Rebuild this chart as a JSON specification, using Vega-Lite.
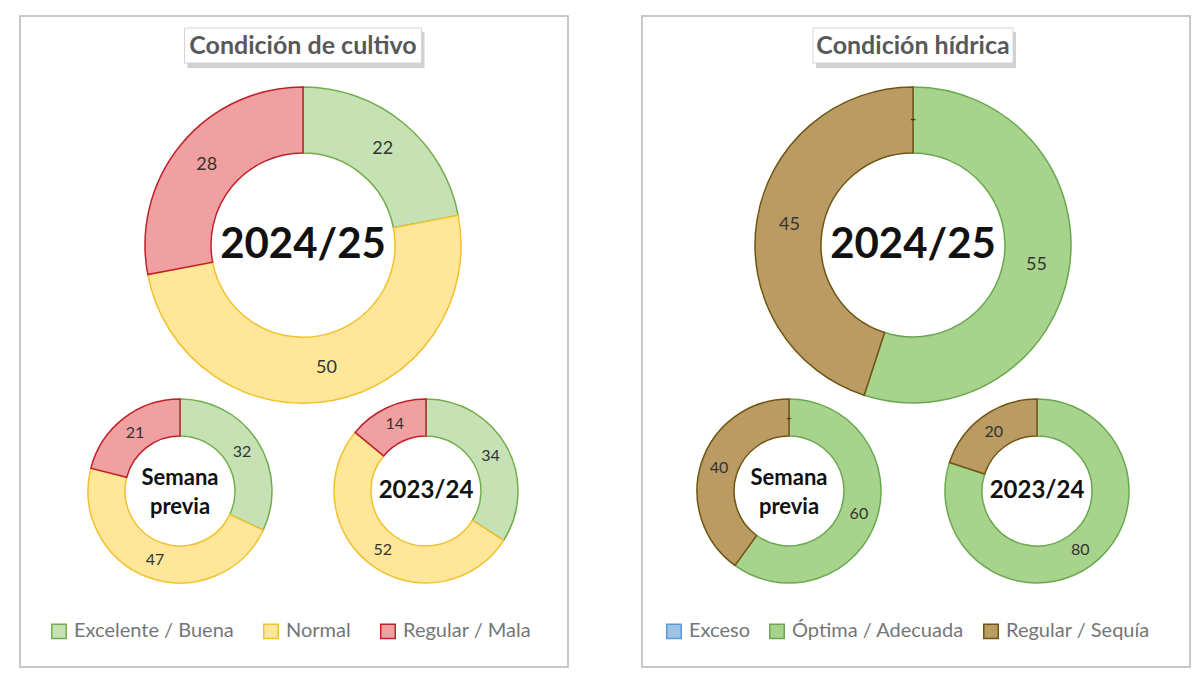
{
  "$schema": "https://vega.github.io/schema/vega-lite/v6.json",
  "background": "#ffffff",
  "padding": {"left": 19, "top": 15, "right": 0, "bottom": 0},
  "spacing": 72,
  "config": {
    "font": "Lato",
    "view": {"stroke": "#b8b8b8", "strokeWidth": 1.5}
  },
  "datasets": {
    "cultivo": [
      {"periodo": "2024/25", "grupo": "Actual", "categoria": "Excelente / Buena", "valor": 22},
      {"periodo": "2024/25", "grupo": "Actual", "categoria": "Normal", "valor": 50},
      {"periodo": "2024/25", "grupo": "Actual", "categoria": "Regular / Mala", "valor": 28},
      {"periodo": "Semana previa", "grupo": "Referencia", "categoria": "Excelente / Buena", "valor": 32},
      {"periodo": "Semana previa", "grupo": "Referencia", "categoria": "Normal", "valor": 47},
      {"periodo": "Semana previa", "grupo": "Referencia", "categoria": "Regular / Mala", "valor": 21},
      {"periodo": "2023/24", "grupo": "Referencia", "categoria": "Excelente / Buena", "valor": 34},
      {"periodo": "2023/24", "grupo": "Referencia", "categoria": "Normal", "valor": 52},
      {"periodo": "2023/24", "grupo": "Referencia", "categoria": "Regular / Mala", "valor": 14}
    ],
    "hidrica": [
      {"periodo": "2024/25", "grupo": "Actual", "categoria": "Exceso", "valor": 0},
      {"periodo": "2024/25", "grupo": "Actual", "categoria": "Óptima / Adecuada", "valor": 55},
      {"periodo": "2024/25", "grupo": "Actual", "categoria": "Regular / Sequía", "valor": 45},
      {"periodo": "Semana previa", "grupo": "Referencia", "categoria": "Exceso", "valor": 0},
      {"periodo": "Semana previa", "grupo": "Referencia", "categoria": "Óptima / Adecuada", "valor": 60},
      {"periodo": "Semana previa", "grupo": "Referencia", "categoria": "Regular / Sequía", "valor": 40},
      {"periodo": "2023/24", "grupo": "Referencia", "categoria": "Óptima / Adecuada", "valor": 80},
      {"periodo": "2023/24", "grupo": "Referencia", "categoria": "Regular / Sequía", "valor": 20}
    ]
  },
  "resolve": {
    "scale": {"x": "independent", "y": "independent", "theta": "independent", "fill": "independent", "stroke": "independent"},
    "legend": {"fill": "independent", "stroke": "independent"}
  },
  "hconcat": [
    {
      "width": 548,
      "height": 651,
      "data": {"name": "cultivo"},
      "layer": [
        {
          "data": {"values": [{"titulo": "Condición de cultivo"}]},
          "mark": {"type": "rect", "width": 237, "fill": "#7a7a7a", "opacity": 0.35, "xOffset": 3},
          "encoding": {
            "x": {"datum": "2024/25", "type": "nominal", "axis": null},
            "y": {"value": 16},
            "y2": {"value": 52}
          }
        },
        {
          "data": {"values": [{"titulo": "Condición de cultivo"}]},
          "mark": {"type": "rect", "width": 237, "fill": "#ffffff", "stroke": "#d4d4d4", "strokeWidth": 1},
          "encoding": {
            "x": {"datum": "2024/25", "type": "nominal", "axis": null},
            "y": {"value": 12},
            "y2": {"value": 47}
          }
        },
        {
          "data": {"values": [{"titulo": "Condición de cultivo"}]},
          "mark": {"type": "text", "fontSize": 25, "fontWeight": "bold", "color": "#595959", "baseline": "middle"},
          "encoding": {
            "x": {"datum": "2024/25", "type": "nominal", "axis": null},
            "y": {"value": 29.5},
            "text": {"field": "titulo"}
          }
        },
        {
          "transform": [{"filter": "datum.periodo === '2024/25'"}],
          "mark": {"type": "arc", "radius": 158, "radius2": 92, "strokeWidth": 1.5},
          "encoding": {
            "x": {"field": "periodo", "type": "nominal", "axis": null, "scale": {"type": "point", "domain": ["Semana previa", "2024/25", "2023/24"], "padding": 0, "range": [160, 406]}},
            "y": {"field": "grupo", "type": "nominal", "axis": null, "scale": {"type": "point", "domain": ["Actual", "Referencia"], "padding": 0.823, "align": 0.5654}},
            "theta": {"field": "valor", "type": "quantitative", "stack": true, "scale": {"domain": [0, 100]}},
            "order": {"field": "categoria", "sort": "ascending"},
            "fill": {
              "field": "categoria", "type": "nominal",
              "scale": {"domain": ["Excelente / Buena", "Normal", "Regular / Mala"], "range": ["#c6e2b5", "#ffe699", "#f0a0a0"]},
              "legend": {"orient": "none", "legendX": 29, "legendY": 605, "direction": "horizontal", "title": null, "symbolType": "square", "symbolSize": 210, "symbolStrokeWidth": 1.5, "labelFontSize": 20, "labelColor": "#767676", "labelFont": "Lato", "labelLimit": 400, "columnPadding": 26, "labelOffset": 5, "padding": 0}
            },
            "stroke": {
              "field": "categoria", "type": "nominal",
              "scale": {"domain": ["Excelente / Buena", "Normal", "Regular / Mala"], "range": ["#72ad4a", "#f2c12e", "#c0202a"]},
              "legend": {"orient": "none", "legendX": 29, "legendY": 605, "direction": "horizontal", "title": null, "symbolType": "square", "symbolSize": 210, "symbolStrokeWidth": 1.5, "labelFontSize": 20, "labelColor": "#767676", "labelFont": "Lato", "labelLimit": 400, "columnPadding": 26, "labelOffset": 5, "padding": 0}
            }
          }
        },
        {
          "transform": [{"filter": "datum.periodo === 'Semana previa'"}],
          "mark": {"type": "arc", "radius": 92, "radius2": 55, "strokeWidth": 1.5},
          "encoding": {
            "x": {"field": "periodo", "type": "nominal", "axis": null},
            "y": {"field": "grupo", "type": "nominal", "axis": null},
            "theta": {"field": "valor", "type": "quantitative", "stack": true},
            "order": {"field": "categoria", "sort": "ascending"},
            "fill": {"field": "categoria", "type": "nominal"},
            "stroke": {"field": "categoria", "type": "nominal"}
          }
        },
        {
          "transform": [{"filter": "datum.periodo === '2023/24'"}],
          "mark": {"type": "arc", "radius": 92, "radius2": 55, "strokeWidth": 1.5},
          "encoding": {
            "x": {"field": "periodo", "type": "nominal", "axis": null},
            "y": {"field": "grupo", "type": "nominal", "axis": null},
            "theta": {"field": "valor", "type": "quantitative", "stack": true},
            "order": {"field": "categoria", "sort": "ascending"},
            "fill": {"field": "categoria", "type": "nominal"},
            "stroke": {"field": "categoria", "type": "nominal"}
          }
        },
        {
          "transform": [{"filter": "datum.periodo === '2024/25'"}],
          "mark": {"type": "text", "radius": 125, "fontSize": 18, "color": "#333333"},
          "encoding": {
            "x": {"field": "periodo", "type": "nominal", "axis": null},
            "y": {"field": "grupo", "type": "nominal", "axis": null},
            "theta": {"field": "valor", "type": "quantitative", "stack": true},
            "order": {"field": "categoria", "sort": "ascending"},
            "detail": {"field": "categoria", "type": "nominal"},
            "text": {"condition": {"test": "datum.valor === 0", "value": "-"}, "field": "valor", "type": "quantitative"}
          }
        },
        {
          "transform": [{"filter": "datum.periodo === 'Semana previa'"}],
          "mark": {"type": "text", "radius": 73.5, "fontSize": 16, "color": "#333333"},
          "encoding": {
            "x": {"field": "periodo", "type": "nominal", "axis": null},
            "y": {"field": "grupo", "type": "nominal", "axis": null},
            "theta": {"field": "valor", "type": "quantitative", "stack": true},
            "order": {"field": "categoria", "sort": "ascending"},
            "detail": {"field": "categoria", "type": "nominal"},
            "text": {"condition": {"test": "datum.valor === 0", "value": "-"}, "field": "valor", "type": "quantitative"}
          }
        },
        {
          "transform": [{"filter": "datum.periodo === '2023/24'"}],
          "mark": {"type": "text", "radius": 73.5, "fontSize": 16, "color": "#333333"},
          "encoding": {
            "x": {"field": "periodo", "type": "nominal", "axis": null},
            "y": {"field": "grupo", "type": "nominal", "axis": null},
            "theta": {"field": "valor", "type": "quantitative", "stack": true},
            "order": {"field": "categoria", "sort": "ascending"},
            "detail": {"field": "categoria", "type": "nominal"},
            "text": {"condition": {"test": "datum.valor === 0", "value": "-"}, "field": "valor", "type": "quantitative"}
          }
        },
        {
          "transform": [
            {"filter": "datum.periodo === '2024/25'"},
            {"aggregate": [{"op": "count", "as": "n"}], "groupby": ["periodo", "grupo"]}
          ],
          "mark": {"type": "text", "fontSize": 42, "fontWeight": "bold", "color": "#111111"},
          "encoding": {
            "x": {"field": "periodo", "type": "nominal", "axis": null},
            "y": {"field": "grupo", "type": "nominal", "axis": null},
            "text": {"field": "periodo"}
          }
        },
        {
          "transform": [
            {"filter": "datum.periodo === 'Semana previa'"},
            {"aggregate": [{"op": "count", "as": "n"}], "groupby": ["periodo", "grupo"]}
          ],
          "mark": {"type": "text", "fontSize": 22, "fontWeight": "bold", "color": "#111111", "lineBreak": " ", "lineHeight": 29, "dy": -13},
          "encoding": {
            "x": {"field": "periodo", "type": "nominal", "axis": null},
            "y": {"field": "grupo", "type": "nominal", "axis": null},
            "text": {"field": "periodo"}
          }
        },
        {
          "transform": [
            {"filter": "datum.periodo === '2023/24'"},
            {"aggregate": [{"op": "count", "as": "n"}], "groupby": ["periodo", "grupo"]}
          ],
          "mark": {"type": "text", "fontSize": 24, "fontWeight": "bold", "color": "#111111"},
          "encoding": {
            "x": {"field": "periodo", "type": "nominal", "axis": null},
            "y": {"field": "grupo", "type": "nominal", "axis": null},
            "text": {"field": "periodo"}
          }
        }
      ]
    },
    {
      "width": 548,
      "height": 651,
      "data": {"name": "hidrica"},
      "layer": [
        {
          "data": {"values": [{"titulo": "Condición hídrica"}]},
          "mark": {"type": "rect", "width": 200, "fill": "#7a7a7a", "opacity": 0.35, "xOffset": 3},
          "encoding": {
            "x": {"datum": "2024/25", "type": "nominal", "axis": null},
            "y": {"value": 16},
            "y2": {"value": 52}
          }
        },
        {
          "data": {"values": [{"titulo": "Condición hídrica"}]},
          "mark": {"type": "rect", "width": 200, "fill": "#ffffff", "stroke": "#d4d4d4", "strokeWidth": 1},
          "encoding": {
            "x": {"datum": "2024/25", "type": "nominal", "axis": null},
            "y": {"value": 12},
            "y2": {"value": 47}
          }
        },
        {
          "data": {"values": [{"titulo": "Condición hídrica"}]},
          "mark": {"type": "text", "fontSize": 25, "fontWeight": "bold", "color": "#595959", "baseline": "middle"},
          "encoding": {
            "x": {"datum": "2024/25", "type": "nominal", "axis": null},
            "y": {"value": 29.5},
            "text": {"field": "titulo"}
          }
        },
        {
          "transform": [{"filter": "datum.periodo === '2024/25'"}],
          "mark": {"type": "arc", "radius": 158, "radius2": 92, "strokeWidth": 1.5},
          "encoding": {
            "x": {"field": "periodo", "type": "nominal", "axis": null, "scale": {"type": "point", "domain": ["Semana previa", "2024/25", "2023/24"], "padding": 0, "range": [147, 395]}},
            "y": {"field": "grupo", "type": "nominal", "axis": null, "scale": {"type": "point", "domain": ["Actual", "Referencia"], "padding": 0.823, "align": 0.5654}},
            "theta": {"field": "valor", "type": "quantitative", "stack": true, "scale": {"domain": [0, 100]}},
            "order": {"field": "categoria", "sort": "descending"},
            "fill": {
              "field": "categoria", "type": "nominal",
              "scale": {"domain": ["Exceso", "Óptima / Adecuada", "Regular / Sequía"], "range": ["#9dc3e6", "#a8d38c", "#b99b63"]},
              "legend": {"orient": "none", "legendX": 22, "legendY": 605, "direction": "horizontal", "title": null, "symbolType": "square", "symbolSize": 210, "symbolStrokeWidth": 1.5, "labelFontSize": 20, "labelColor": "#767676", "labelFont": "Lato", "labelLimit": 400, "columnPadding": 16, "labelOffset": 5, "padding": 0}
            },
            "stroke": {
              "field": "categoria", "type": "nominal",
              "scale": {"domain": ["Exceso", "Óptima / Adecuada", "Regular / Sequía"], "range": ["#5b9bd5", "#6aa84f", "#6f5512"]},
              "legend": {"orient": "none", "legendX": 22, "legendY": 605, "direction": "horizontal", "title": null, "symbolType": "square", "symbolSize": 210, "symbolStrokeWidth": 1.5, "labelFontSize": 20, "labelColor": "#767676", "labelFont": "Lato", "labelLimit": 400, "columnPadding": 16, "labelOffset": 5, "padding": 0}
            }
          }
        },
        {
          "transform": [{"filter": "datum.periodo === 'Semana previa'"}],
          "mark": {"type": "arc", "radius": 92, "radius2": 55, "strokeWidth": 1.5},
          "encoding": {
            "x": {"field": "periodo", "type": "nominal", "axis": null},
            "y": {"field": "grupo", "type": "nominal", "axis": null},
            "theta": {"field": "valor", "type": "quantitative", "stack": true},
            "order": {"field": "categoria", "sort": "descending"},
            "fill": {"field": "categoria", "type": "nominal"},
            "stroke": {"field": "categoria", "type": "nominal"}
          }
        },
        {
          "transform": [{"filter": "datum.periodo === '2023/24'"}],
          "mark": {"type": "arc", "radius": 92, "radius2": 55, "strokeWidth": 1.5},
          "encoding": {
            "x": {"field": "periodo", "type": "nominal", "axis": null},
            "y": {"field": "grupo", "type": "nominal", "axis": null},
            "theta": {"field": "valor", "type": "quantitative", "stack": true},
            "order": {"field": "categoria", "sort": "descending"},
            "fill": {"field": "categoria", "type": "nominal"},
            "stroke": {"field": "categoria", "type": "nominal"}
          }
        },
        {
          "transform": [{"filter": "datum.periodo === '2024/25'"}],
          "mark": {"type": "text", "radius": 125, "fontSize": 18, "color": "#333333"},
          "encoding": {
            "x": {"field": "periodo", "type": "nominal", "axis": null},
            "y": {"field": "grupo", "type": "nominal", "axis": null},
            "theta": {"field": "valor", "type": "quantitative", "stack": true},
            "order": {"field": "categoria", "sort": "descending"},
            "detail": {"field": "categoria", "type": "nominal"},
            "text": {"condition": {"test": "datum.valor === 0", "value": "-"}, "field": "valor", "type": "quantitative"}
          }
        },
        {
          "transform": [{"filter": "datum.periodo === 'Semana previa'"}],
          "mark": {"type": "text", "radius": 73.5, "fontSize": 16, "color": "#333333"},
          "encoding": {
            "x": {"field": "periodo", "type": "nominal", "axis": null},
            "y": {"field": "grupo", "type": "nominal", "axis": null},
            "theta": {"field": "valor", "type": "quantitative", "stack": true},
            "order": {"field": "categoria", "sort": "descending"},
            "detail": {"field": "categoria", "type": "nominal"},
            "text": {"condition": {"test": "datum.valor === 0", "value": "-"}, "field": "valor", "type": "quantitative"}
          }
        },
        {
          "transform": [{"filter": "datum.periodo === '2023/24'"}],
          "mark": {"type": "text", "radius": 73.5, "fontSize": 16, "color": "#333333"},
          "encoding": {
            "x": {"field": "periodo", "type": "nominal", "axis": null},
            "y": {"field": "grupo", "type": "nominal", "axis": null},
            "theta": {"field": "valor", "type": "quantitative", "stack": true},
            "order": {"field": "categoria", "sort": "descending"},
            "detail": {"field": "categoria", "type": "nominal"},
            "text": {"condition": {"test": "datum.valor === 0", "value": "-"}, "field": "valor", "type": "quantitative"}
          }
        },
        {
          "transform": [
            {"filter": "datum.periodo === '2024/25'"},
            {"aggregate": [{"op": "count", "as": "n"}], "groupby": ["periodo", "grupo"]}
          ],
          "mark": {"type": "text", "fontSize": 42, "fontWeight": "bold", "color": "#111111"},
          "encoding": {
            "x": {"field": "periodo", "type": "nominal", "axis": null},
            "y": {"field": "grupo", "type": "nominal", "axis": null},
            "text": {"field": "periodo"}
          }
        },
        {
          "transform": [
            {"filter": "datum.periodo === 'Semana previa'"},
            {"aggregate": [{"op": "count", "as": "n"}], "groupby": ["periodo", "grupo"]}
          ],
          "mark": {"type": "text", "fontSize": 22, "fontWeight": "bold", "color": "#111111", "lineBreak": " ", "lineHeight": 29, "dy": -13},
          "encoding": {
            "x": {"field": "periodo", "type": "nominal", "axis": null},
            "y": {"field": "grupo", "type": "nominal", "axis": null},
            "text": {"field": "periodo"}
          }
        },
        {
          "transform": [
            {"filter": "datum.periodo === '2023/24'"},
            {"aggregate": [{"op": "count", "as": "n"}], "groupby": ["periodo", "grupo"]}
          ],
          "mark": {"type": "text", "fontSize": 24, "fontWeight": "bold", "color": "#111111"},
          "encoding": {
            "x": {"field": "periodo", "type": "nominal", "axis": null},
            "y": {"field": "grupo", "type": "nominal", "axis": null},
            "text": {"field": "periodo"}
          }
        }
      ]
    }
  ]
}
